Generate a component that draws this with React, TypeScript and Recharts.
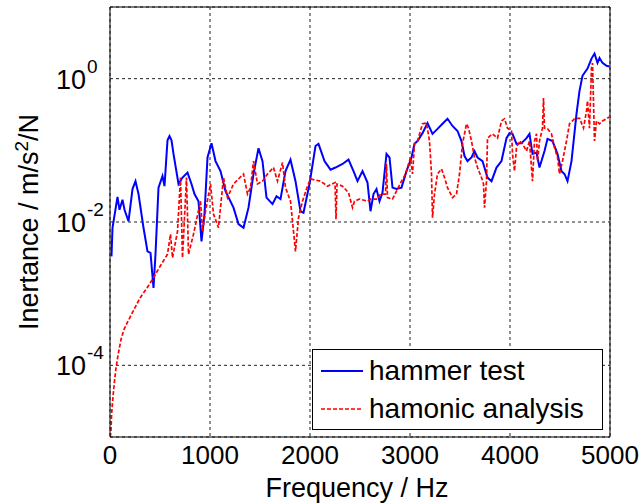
import { LineChart, Line, XAxis, YAxis, CartesianGrid, Legend, ReferenceLine } from 'recharts';

// [frequency Hz, log10 of inertance]
const hammerTest: [number, number][] = [
  [15, -2.48], [25, -2.08], [75, -1.65], [95, -1.83], [125, -1.69], [145, -1.83], [185, -1.99],
  [225, -1.54], [255, -1.43], [285, -1.61], [335, -2.08], [375, -2.41], [405, -2.43], [435, -2.92],
  [455, -2.45], [485, -1.52], [525, -1.36], [545, -1.5], [575, -0.86], [595, -0.8], [615, -0.86], [635, -1.05],
  [685, -1.47], [725, -1.38], [775, -1.31], [815, -1.47], [845, -1.61], [885, -1.71], [915, -2.27],
  [945, -1.89], [975, -1.1], [1015, -0.9], [1055, -1.15], [1105, -1.29], [1155, -1.57], [1235, -1.8],
  [1285, -2.03], [1335, -2.08], [1385, -1.8], [1435, -1.33], [1485, -0.97], [1525, -1.15], [1565, -1.66],
  [1625, -1.75], [1665, -1.64], [1705, -1.68], [1755, -1.29], [1805, -1.13], [1855, -1.43], [1905, -1.85],
  [1935, -1.87], [1995, -1.47], [2055, -0.94], [2085, -0.91], [2145, -1.15], [2205, -1.27], [2255, -1.24],
  [2325, -1.19], [2385, -1.13], [2435, -1.29], [2475, -1.43], [2525, -1.29], [2575, -1.45], [2605, -1.85],
  [2635, -1.61], [2665, -1.54], [2695, -1.71], [2725, -1.59], [2765, -1.05], [2795, -1.1], [2825, -1.52],
  [2865, -1.54], [2915, -1.52], [2965, -1.29], [3015, -1.1], [3045, -0.91], [3075, -0.87], [3125, -0.76],
  [3175, -0.62], [3225, -0.77], [3275, -0.7], [3325, -0.63], [3375, -0.56], [3425, -0.66], [3475, -0.73],
  [3515, -0.87], [3545, -1.08], [3575, -1.15], [3615, -1.1], [3645, -1.01], [3675, -1.1], [3725, -1.15],
  [3775, -1.38], [3815, -1.43], [3865, -1.24], [3915, -1.15], [3965, -0.83], [3995, -0.76], [4025, -0.77],
  [4065, -0.91], [4115, -0.9], [4165, -0.83], [4195, -0.77], [4225, -1.05], [4265, -1.03], [4295, -1.24],
  [4345, -1.01], [4375, -0.84], [4425, -0.87], [4475, -1.05], [4515, -1.29], [4545, -1.33], [4575, -1.43],
  [4615, -1.15], [4665, -0.49], [4695, -0.17], [4725, 0.04], [4775, 0.14], [4815, 0.28], [4845, 0.35],
  [4875, 0.22], [4895, 0.29], [4925, 0.22], [4965, 0.18], [4995, 0.17],
];

const harmonicAnalysis: [number, number][] = [
  [3, -5.0], [10, -4.9], [15, -4.72], [20, -4.6], [30, -4.44], [45, -4.22], [60, -4.04], [80, -3.86],
  [110, -3.64], [140, -3.5], [170, -3.41], [200, -3.33], [255, -3.18], [300, -3.06], [370, -2.92],
  [425, -2.8], [500, -2.62], [575, -2.45], [605, -2.17], [625, -2.5], [675, -2.13], [705, -1.38],
  [725, -2.5], [765, -1.38], [785, -2.45], [835, -2.17], [905, -1.71], [925, -2.13], [955, -1.85],
  [1005, -1.47], [1035, -1.89], [1085, -2.08], [1135, -1.38], [1175, -1.66], [1235, -1.47], [1335, -1.33],
  [1375, -1.61], [1405, -1.52], [1435, -1.15], [1475, -1.47], [1525, -1.43], [1575, -1.33], [1635, -1.24],
  [1675, -1.43], [1725, -1.17], [1755, -1.52], [1805, -1.71], [1835, -2.13], [1855, -2.41], [1885, -1.94],
  [1925, -1.71], [1975, -1.5], [2005, -1.4], [2105, -1.43], [2175, -1.5], [2250, -1.45], [2260, -1.96],
  [2270, -1.47], [2325, -1.5], [2385, -1.59], [2425, -1.8], [2445, -1.71], [2495, -1.68], [2575, -1.71],
  [2605, -1.68], [2675, -1.68], [2705, -1.61], [2755, -1.61], [2765, -1.19], [2775, -1.66], [2825, -1.68],
  [2865, -1.57], [2915, -1.43], [2955, -1.33], [3005, -1.1], [3025, -1.33], [3045, -0.91], [3075, -0.87],
  [3125, -0.63], [3165, -0.62], [3195, -0.87], [3215, -1.33], [3225, -1.94], [3245, -1.61], [3275, -1.33],
  [3315, -1.26], [3345, -1.38], [3375, -1.52], [3425, -1.66], [3465, -1.61], [3495, -1.33], [3525, -0.91],
  [3565, -0.63], [3585, -0.69], [3615, -0.87], [3645, -1.1], [3675, -1.24], [3715, -1.38], [3735, -1.47],
  [3745, -1.8], [3765, -1.43], [3775, -0.83], [3825, -0.77], [3875, -0.83], [3915, -0.59], [3945, -0.56],
  [3975, -0.69], [4015, -0.73], [4025, -1.05], [4045, -1.29], [4065, -0.96], [4095, -0.87], [4125, -0.91],
  [4165, -1.01], [4195, -0.87], [4225, -1.43], [4245, -0.87], [4265, -0.77], [4275, -1.15], [4295, -0.87],
  [4325, -0.69], [4335, -0.27], [4345, -0.69], [4375, -0.7], [4415, -0.77], [4445, -0.96], [4475, -1.1],
  [4495, -1.33], [4525, -1.15], [4565, -0.87], [4595, -0.63], [4645, -0.56], [4695, -0.55], [4735, -0.69],
  [4765, -0.45], [4775, -0.31], [4795, -0.69], [4815, 0.15], [4825, 0.22], [4845, -0.87], [4865, -0.59],
  [4895, -0.63], [4925, -0.59], [4975, -0.55], [5000, -0.53],
];

const xTicks = [0, 1000, 2000, 3000, 4000, 5000];
const yTicks = [1e-4, 1e-2, 1];

const FONT = 'Liberation Sans, Arial, sans-serif';

const toPoints = (rows: [number, number][]) => rows.map(([f, e]) => ({ f, v: Math.pow(10, e) }));

const XTick = ({ x, payload }: any) => (
  <text x={x} y={464} textAnchor="middle" fontSize={26} fontFamily={FONT} fill="#000">
    {payload.value}
  </text>
);

const YTick = ({ y, payload }: any) => {
  const exp = Math.round(Math.log10(payload.value));
  return (
    <text x={56} y={y + 10} fontSize={27} fontFamily={FONT} fill="#000">
      10
      <tspan dx={1} dy={-16} fontSize={19}>{exp}</tspan>
    </text>
  );
};

const LegendBox = ({ payload }: any) => (
  <div
    style={{
      boxSizing: 'border-box',
      width: 291,
      height: 81,
      border: '1px solid #000',
      background: '#fff',
      fontFamily: FONT,
      fontSize: 28,
      color: '#000',
      paddingTop: 2,
    }}
  >
    {(payload || []).map((item: any) => (
      <div key={item.value} style={{ display: 'flex', alignItems: 'center', height: 38 }}>
        <svg width={56} height={10} style={{ flex: 'none' }}>
          <line
            x1={8}
            x2={50}
            y1={5}
            y2={5}
            stroke={item.color}
            strokeWidth={item.payload.strokeDasharray ? 1.6 : 2}
            strokeDasharray={item.payload.strokeDasharray}
          />
        </svg>
        <span style={{ lineHeight: 1 }}>{item.value}</span>
      </div>
    ))}
  </div>
);

export default function App() {
  return (
    <div style={{ position: 'absolute', left: 0, top: 0, width: 641, height: 504, background: '#fff' }}>
      <LineChart width={641} height={504} margin={{ top: 7, right: 31, bottom: 0, left: 0 }}>
        <CartesianGrid stroke="#222" strokeDasharray="3 3" />
        <XAxis
          type="number"
          dataKey="f"
          domain={[0, 5000]}
          ticks={xTicks}
          allowDataOverflow
          height={67}
          tickLine={false}
          axisLine={{ stroke: '#000' }}
          tick={<XTick />}
          label={{
            content: () => (
              <text x={357} y={497} textAnchor="middle" fontSize={27} fontFamily={FONT} fill="#000">
                Frequency / Hz
              </text>
            ),
          }}
        />
        <YAxis
          type="number"
          scale="log"
          domain={[1e-5, 10]}
          ticks={yTicks}
          allowDataOverflow
          width={110}
          tickLine={false}
          axisLine={{ stroke: '#000' }}
          tick={<YTick />}
          label={{
            content: () => (
              <text
                transform="translate(38 222) rotate(-90)"
                textAnchor="middle"
                fontSize={27}
                fontFamily={FONT}
                fill="#000"
              >
                Inertance / m/s
                <tspan dy={-10} fontSize={19}>2</tspan>
                <tspan dy={10}>/N</tspan>
              </text>
            ),
          }}
        />
        <ReferenceLine y={10} stroke="#000" strokeWidth={1} ifOverflow="extendDomain" />
        <ReferenceLine x={5000} stroke="#000" strokeWidth={1} />
        <Line
          data={toPoints(hammerTest)}
          dataKey="v"
          name="hammer test"
          type="linear"
          stroke="#0000ff"
          strokeWidth={2}
          dot={false}
          isAnimationActive={false}
        />
        <Line
          data={toPoints(harmonicAnalysis)}
          dataKey="v"
          name="hamonic analysis"
          type="linear"
          stroke="#ff0000"
          strokeWidth={1.7}
          strokeDasharray="4 2"
          dot={false}
          isAnimationActive={false}
        />
        <Legend
          layout="vertical"
          align="center"
          verticalAlign="middle"
          content={<LegendBox />}
          wrapperStyle={{ left: 312, top: 349, width: 291, height: 81 }}
        />
      </LineChart>
    </div>
  );
}
